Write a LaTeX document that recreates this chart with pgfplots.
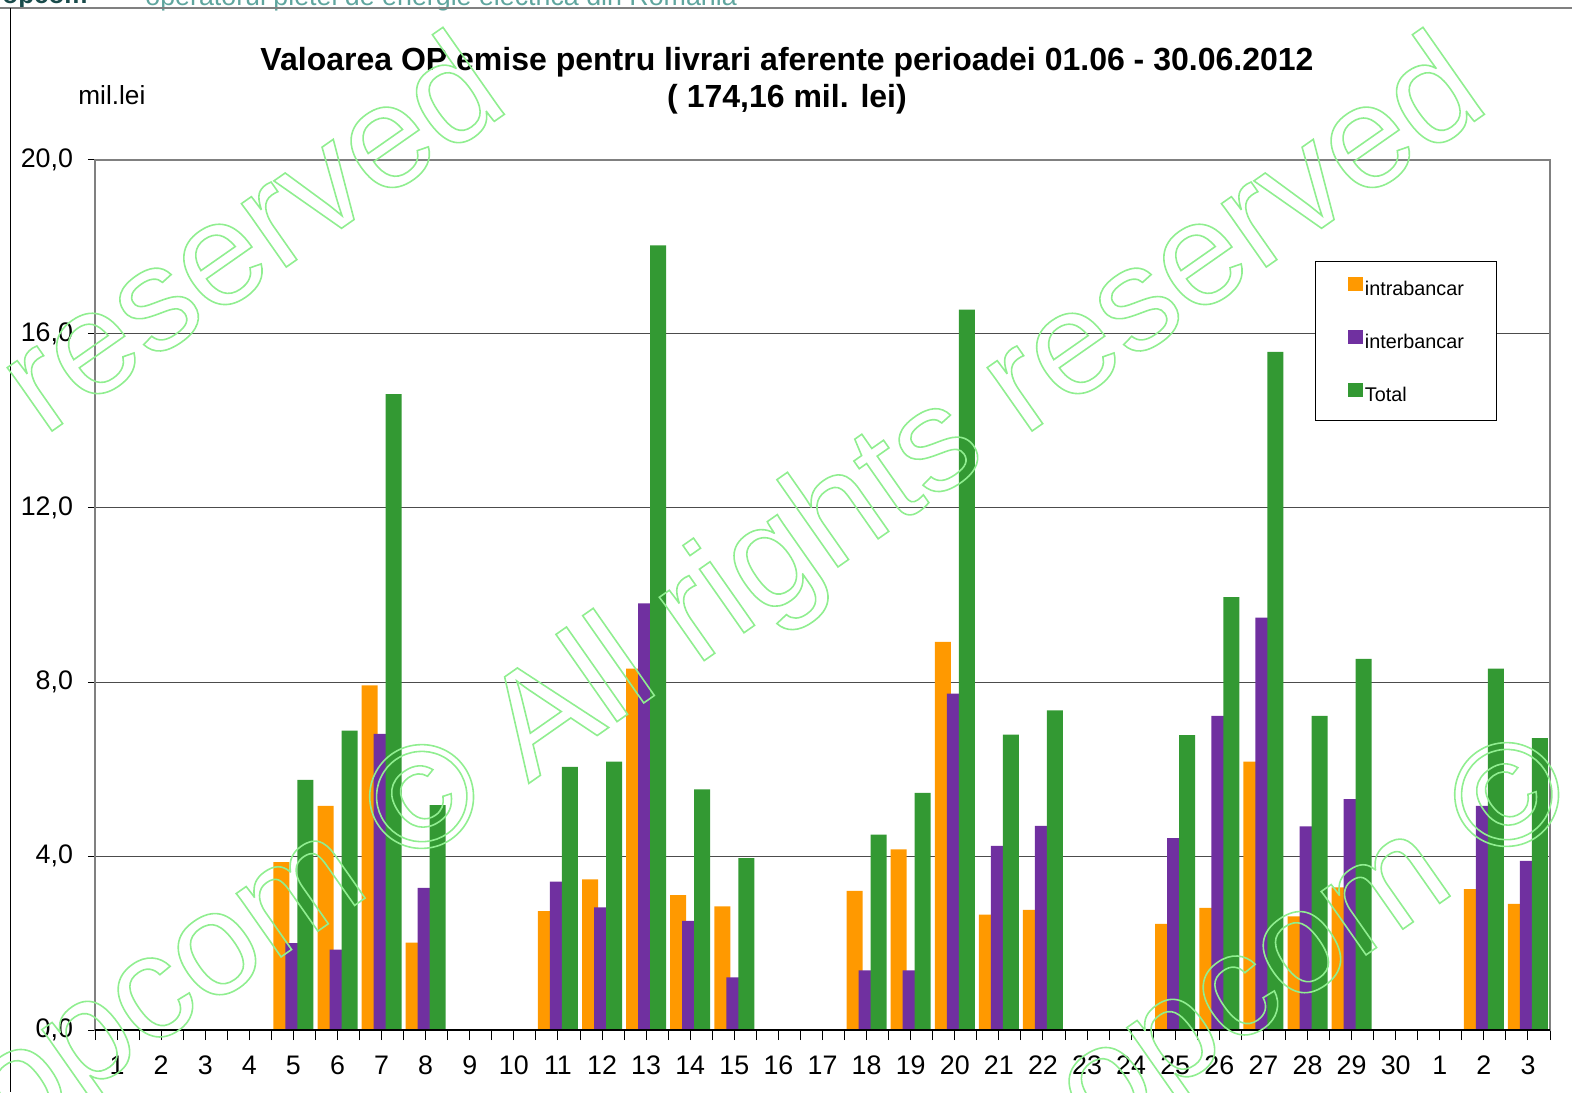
\documentclass[border=0pt]{standalone}
\usepackage{fontspec}
\setmainfont{Liberation Sans}
\usepackage{pgfplots}
\pgfplotsset{compat=1.18}

\definecolor{cintra}{RGB}{255,153,0}
\definecolor{cinter}{RGB}{112,48,160}
\definecolor{ctotal}{RGB}{51,153,51}
\definecolor{hdr}{RGB}{95,165,158}
\definecolor{logo}{RGB}{25,75,75}
\definecolor{wm}{RGB}{144,238,144}

\newcommand\wmtext{opcom \textcopyright{} All rights reserved}

\begin{document}
\begin{tikzpicture}
\path[use as bounding box] (0,0) rectangle (786pt,546pt);
\clip (0,0) rectangle (786pt,546pt);

% cropped page header
\node[anchor=base east,inner sep=0pt,text=logo,font=\fontsize{13}{15}\selectfont\bfseries] at (44pt,544pt) {opcom};
\node[anchor=base west,inner sep=0pt,text=hdr,font=\fontsize{13.4}{15}\selectfont] at (72.5pt,543pt) {operatorul pietei de energie electrica din Romania};
\draw[gray,line width=0.8pt] (0,542pt) -- (786pt,542pt);
\draw[black,line width=0.5pt] (5pt,542pt) -- (5pt,0);

\node[align=center,font=\fontsize{16}{18.5}\selectfont\bfseries] at (393.5pt,505.5pt)
  {Valoarea OP emise pentru livrari aferente perioadei 01.06 - 30.06.2012\\( 174,16 mil. lei)};
\node[anchor=west,inner sep=0pt,font=\fontsize{13.1}{15}\selectfont] at (39pt,498.5pt) {mil.lei};

\begin{axis}[
  at={(47.5pt,31pt)},anchor=south west,
  scale only axis,width=727.5pt,height=435pt,
  xmin=0.5,xmax=33.5,ymin=0,ymax=20,
  ybar,bar width=8pt,
  xtick={0.5,1.5,...,33.5},
  xticklabel=\empty,
  xtick style={draw=black,line width=0.5pt,/pgfplots/major tick length=5pt},
  extra x ticks={1,...,33},
  extra x tick labels={1,2,3,4,5,6,7,8,9,10,11,12,13,14,15,16,17,18,19,20,21,22,23,24,25,26,27,28,29,30,1,2,3},
  extra x tick style={major tick length=0pt,grid=none},
  x tick label style={anchor=center,yshift=-17.5pt},
  ytick={0,4,...,20},
  ymajorgrids,
  grid style={black!70,line width=0.5pt},
  y tick style={draw=black,line width=0.5pt},
  tick align=outside,major tick length=3.5pt,
  ytick pos=left,xtick pos=bottom,
  /pgf/number format/.cd,fixed,fixed zerofill,precision=1,use comma,assume math mode=true,
  /pgfplots/.cd,
  tick label style={font=\fontsize{13.4}{15}\selectfont},
  y tick label style={xshift=-4pt},
  axis line style={draw=gray,line width=0.8pt},
  legend style={at={(0.8385,0.8839)},anchor=north west,draw=black,line width=0.5pt,
    font=\fontsize{9.9}{12}\selectfont,
    nodes={inner sep=0pt,anchor=west,text height=7.5pt,text depth=2pt},
    inner xsep=16pt,inner ysep=7.5pt,row sep=15pt,
    /tikz/every odd column/.append style={column sep=1.2pt}},
  legend image code/.code={\fill[#1] (0pt,-0.4pt) rectangle (7.5pt,6.8pt);},
]
\addplot[fill=cintra,draw=none,bar shift=-6pt] coordinates {
  (5,3.86) (6,5.15) (7,7.92) (8,2.01) (11,2.73) (12,3.46) (13,8.31) (14,3.10) (15,2.84)
  (18,3.20) (19,4.15) (20,8.92) (21,2.65) (22,2.76) (25,2.44) (26,2.81) (27,6.17) (28,2.61)
  (29,3.28) (32,3.24) (33,2.90)};
\addlegendentry{intrabancar}
\addplot[fill=cinter,draw=none,bar shift=0pt] coordinates {
  (5,2.00) (6,1.85) (7,6.81) (8,3.27) (11,3.41) (12,2.82) (13,9.81) (14,2.51) (15,1.21)
  (18,1.37) (19,1.37) (20,7.73) (21,4.23) (22,4.69) (25,4.41) (26,7.22) (27,9.48) (28,4.68)
  (29,5.31) (32,5.15) (33,3.89)};
\addlegendentry{interbancar}
\addplot[fill=ctotal,draw=none,bar shift=6pt] coordinates {
  (5,5.75) (6,6.88) (7,14.62) (8,5.17) (11,6.05) (12,6.17) (13,18.04) (14,5.53) (15,3.95)
  (18,4.49) (19,5.45) (20,16.56) (21,6.79) (22,7.35) (25,6.78) (26,9.95) (27,15.59) (28,7.22)
  (29,8.53) (32,8.31) (33,6.71)};
\addlegendentry{Total}
\draw[black,line width=0.6pt] (axis cs:0.5,0) -- (axis cs:33.5,0);
\end{axis}

% watermark, outlined text
\begin{scope}[line width=0.8pt]
\foreach \p in {(5.5pt,-27pt),(-484.5pt,-27pt),(548pt,-26pt)}
  \node[rotate=35,anchor=base west,inner sep=0pt,text=wm,font=\fontsize{73.5}{80}\selectfont]
    at \p {\special{pdf:literal direct 1 Tr}\wmtext\special{pdf:literal direct 0 Tr}};
\end{scope}
\end{tikzpicture}
\end{document}
